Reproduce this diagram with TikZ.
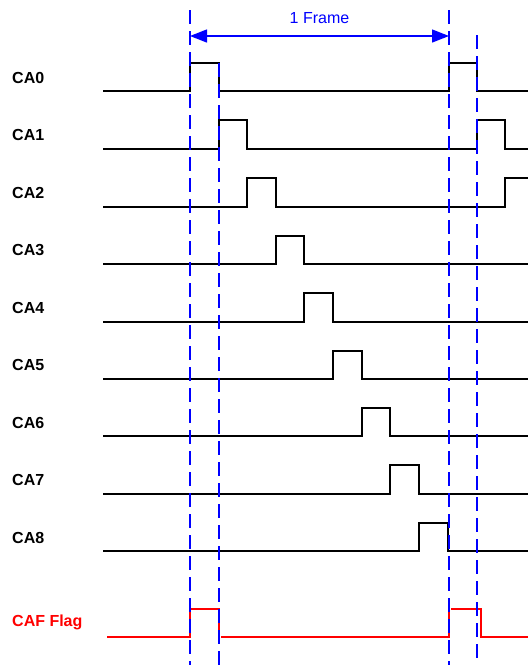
\documentclass[tikz,border=0pt]{standalone}
\usepackage{fontspec}
\setmainfont{Liberation Sans}
\usetikzlibrary{arrows.meta, positioning}

\begin{document}
\begin{tikzpicture}[x=1pt, y=-1pt, node distance = 57.5pt, on grid,
    sig/.style = {line width=1.4pt, black},
    flag/.style = {line width=1.4pt, red},
    mark line/.style = {line width=1.4pt, blue, dash pattern=on 13.5pt off 7.5pt},
    lbl/.style = {anchor=west, inner sep=0pt, font=\fontsize{16}{16}\selectfont\bfseries}]
  \useasboundingbox (0,0) rectangle (528,665);
  % channel labels
  \node[lbl] (ca0) at (12,77.5) {CA0};
  \node[lbl] (ca1) [below=of ca0] {CA1};
  \node[lbl] (ca2) [below=of ca1] {CA2};
  \node[lbl] (ca3) [below=of ca2] {CA3};
  \node[lbl] (ca4) [below=of ca3] {CA4};
  \node[lbl] (ca5) [below=of ca4] {CA5};
  \node[lbl] (ca6) [below=of ca5] {CA6};
  \node[lbl] (ca7) [below=of ca6] {CA7};
  \node[lbl] (ca8) [below=of ca7] {CA8};
  \node[lbl, red] (caf) at (12,622.5) {CAF Flag};
  % signals
  \draw[sig] (103,91) -| (190,63) -| (219,91) -- (449,91) |- (477,63) |- (528,91);
  \draw[sig] (103,149) -| (219,120) -| (247,149) -- (477,149) |- (505,120) |- (528,149);
  \draw[sig] (103,207) -| (247,178) -| (276,207) -- (505,207) |- (528,178);
  \draw[sig] (103,264) -| (276,236) -| (304,264) -- (528,264);
  \draw[sig] (103,322) -| (304,293) -| (333,322) -- (528,322);
  \draw[sig] (103,379) -| (333,351) -| (362,379) -- (528,379);
  \draw[sig] (103,436) -| (362,408) -| (390,436) -- (528,436);
  \draw[sig] (103,494) -| (390,465) -| (419,494) -- (528,494);
  \draw[sig] (103,551) -| (419,523) -| (448,551) -- (528,551);
  \draw[flag] (107,637) -| (190,609) -| (219,637);
  \draw[flag] (221,637) -| (449,609);
  \draw[flag] (451,609) -| (481,637) -- (528,637);
  % frame markers
  \coordinate (m0) at (190,10);
  \coordinate (m1) at (219,63);
  \coordinate (m2) at (449,10);
  \coordinate (m3) at (477,35);
  \draw[mark line] (m0) -- (190,665);
  \draw[mark line] (m1) -- (219,665);
  \draw[mark line] (m2) -- (449,665);
  \draw[mark line] (m3) -- (477,665);
  \coordinate (f0) at (190,36);
  \coordinate (f1) at (449,36);
  \draw[blue, line width=1.4pt, {Triangle[length=17pt,width=13pt]}-{Triangle[length=17pt,width=13pt]}] (f0) -- (f1)
    node[midway, above=18pt, anchor=center, font=\fontsize{16}{16}\selectfont, inner sep=0pt] (frame) {1 Frame};
\end{tikzpicture}
\end{document}
